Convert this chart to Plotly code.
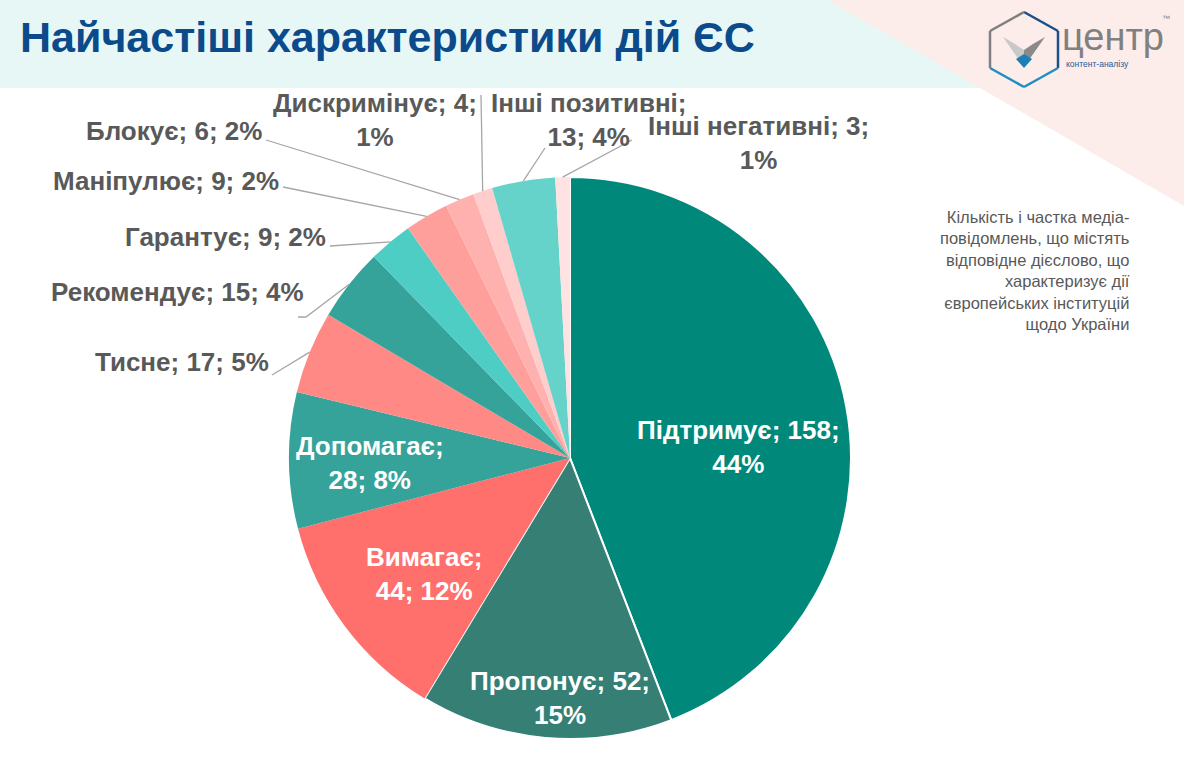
import math
import plotly.graph_objects as go

W, H = 1184, 762

# ---- data ----
categories = ["Підтримує", "Пропонує", "Вимагає", "Допомагає", "Тисне", "Рекомендує",
              "Гарантує", "Маніпулює", "Блокує", "Дискримінує", "Інші позитивні", "Інші негативні"]
values = [158, 52, 44, 28, 17, 15, 9, 9, 6, 4, 13, 3]
percents = [44, 15, 12, 8, 5, 4, 2, 2, 2, 1, 4, 1]

colors = ["#00897B", "#357F75", "#FF706C", "#35A399", "#FF8A85", "#35A399",
          "#4ECDC4", "#FF9F9B", "#FFB1AF", "#FFCDCB", "#66D3CA", "#FFE3E3"]

# ---- layout of labels (pixel positions) ----
# mode: 0 one line, 1 "name; v;<br>p%", 2 "name;<br>v; p%"
label_cfg = {
    "Підтримує":      dict(mode=1, x=738, y=447, anchor="center", inside=True),
    "Пропонує":       dict(mode=1, x=560, y=698, anchor="center", inside=True),
    "Вимагає":        dict(mode=2, x=424, y=574, anchor="center", inside=True),
    "Допомагає":      dict(mode=2, x=370, y=463, anchor="center", inside=True),
    "Тисне":          dict(mode=0, x=271, y=362, anchor="right", line=[(272, 375)]),
    "Рекомендує":     dict(mode=0, x=306, y=292, anchor="right", line=[(298, 317), (306, 317)]),
    "Гарантує":       dict(mode=0, x=328, y=237, anchor="right", line=[(330, 246)]),
    "Маніпулює":      dict(mode=0, x=281, y=181, anchor="right", line=[(283, 187)]),
    "Блокує":         dict(mode=0, x=264, y=131, anchor="right", line=[(266, 140)]),
    "Дискримінує":    dict(mode=1, x=375, y=120, anchor="center", line=[(481, 95)]),
    "Інші позитивні": dict(mode=2, x=588, y=120, anchor="center", line=[(545, 148)]),
    "Інші негативні": dict(mode=1, x=758, y=143, anchor="center", line=[(632, 140)]),
}

CX, CY, R = 570, 458, 281
FONT = "Liberation Sans, Arial, sans-serif"


def px(x):
    return x / W


def py(y):
    return 1 - y / H


def label_text(name, v, p, mode):
    if mode == 0:
        return f"{name}; {v}; {p}%"
    if mode == 1:
        return f"{name}; {v};<br>{p}%"
    return f"{name};<br>{v}; {p}%"


line_w = [2, 2] + [0] * (len(values) - 2)

fig = go.Figure()
fig.add_trace(go.Pie(
    labels=categories, values=values, sort=False, direction="clockwise", rotation=0,
    marker=dict(colors=colors, line=dict(color="white", width=line_w)),
    textinfo="none", hoverinfo="label+value+percent", showlegend=False,
    domain=dict(x=[px(CX - R), px(CX + R)], y=[py(CY + R), py(CY - R)]),
))

shapes = []
# background decorations
shapes.append(dict(type="rect", xref="paper", yref="paper", x0=0, x1=px(1010), y0=py(88), y1=1,
                   fillcolor="#E7F7F5", line=dict(width=0), layer="below"))
shapes.append(dict(type="path", xref="paper", yref="paper",
                   path=f"M {px(828)} {py(0)} L {px(1184)} {py(0)} L {px(1184)} {py(206)} Z",
                   fillcolor="#FCEDEB", line=dict(width=0), layer="below"))

# leader lines + labels
total = sum(values)
cum = 0
annotations = []
for name, v, p in zip(categories, values, percents):
    mid = (cum + v / 2) / total * 2 * math.pi
    cum += v
    cfg = label_cfg[name]
    inside = cfg.get("inside", False)
    annotations.append(dict(
        xref="paper", yref="paper", x=px(cfg["x"]), y=py(cfg["y"]),
        xanchor=cfg["anchor"], yanchor="middle", align="center" if cfg["anchor"] == "center" else "right",
        text=f"<b>{label_text(name, v, p, cfg['mode'])}</b>", showarrow=False,
        font=dict(family=FONT, size=26, color="white" if inside else "#595959"),
    ))
    if not inside:
        ex = CX + R * math.sin(mid)
        ey = CY - R * math.cos(mid)
        pts = cfg["line"] + [(ex, ey)]
        path = "M " + " L ".join(f"{px(a)} {py(b)}" for a, b in pts)
        shapes.append(dict(type="path", xref="paper", yref="paper", path=path,
                           line=dict(color="#A6A6A6", width=1.3)))

# title
annotations.append(dict(xref="paper", yref="paper", x=px(18), y=py(37), xanchor="left", yanchor="middle",
                        text="<b>Найчастіші характеристики дій ЄС</b>", showarrow=False,
                        font=dict(family=FONT, size=43, color="#0B4A8B")))

# description
annotations.append(dict(xref="paper", yref="paper", x=px(1132), y=py(206), xanchor="right", yanchor="top",
                        align="right", showarrow=False,
                        text="Кількість і частка медіа-<br>повідомлень, що містять<br>відповідне дієслово, що<br>"
                             "характеризує дії<br>європейських інституцій<br>щодо України",
                        font=dict(family=FONT, size=16.5, color="#595959")))

# logo
hexagon = [(1024, 12), (1058, 31), (1058, 68), (1024, 87), (990, 68), (990, 31)]
seg_colors = ["#1B4F8A", "#1B4F8A", "#1E8FC0", "#1E8FC0", "#7F7F7F", "#7F7F7F"]
for i in range(6):
    a = hexagon[i]
    b = hexagon[(i + 1) % 6]
    shapes.append(dict(type="line", xref="paper", yref="paper", x0=px(a[0]), y0=py(a[1]),
                       x1=px(b[0]), y1=py(b[1]), line=dict(color=seg_colors[i], width=2.5)))


def poly(pts, color):
    path = "M " + " L ".join(f"{px(a)} {py(b)}" for a, b in pts) + " Z"
    return dict(type="path", xref="paper", yref="paper", path=path, fillcolor=color, line=dict(width=0))


shapes.append(poly([(1003, 37), (1015, 44), (1024, 50), (1024, 67)], "#C9C9C9"))
shapes.append(poly([(1045, 37), (1033, 44), (1024, 50), (1024, 67)], "#8A8A8A"))
shapes.append(poly([(1016, 59), (1024, 54), (1032, 59), (1024, 68)], "#1E7FB5"))

annotations.append(dict(xref="paper", yref="paper", x=px(1060), y=py(37), xanchor="left", yanchor="middle",
                        text="центр", showarrow=False,
                        font=dict(family=FONT, size=38, color="#808080")))
annotations.append(dict(xref="paper", yref="paper", x=px(1064), y=py(64), xanchor="left", yanchor="middle",
                        text="контент-аналізу", showarrow=False,
                        font=dict(family=FONT, size=8.5, color="#1E5A96")))
annotations.append(dict(xref="paper", yref="paper", x=px(1166), y=py(19), xanchor="center", yanchor="middle",
                        text="™", showarrow=False,
                        font=dict(family=FONT, size=8, color="#808080")))

fig.update_layout(width=W, height=H, margin=dict(l=0, r=0, t=0, b=0),
                  paper_bgcolor="white", plot_bgcolor="white",
                  shapes=shapes, annotations=annotations)

fig.write_html("out.html")
